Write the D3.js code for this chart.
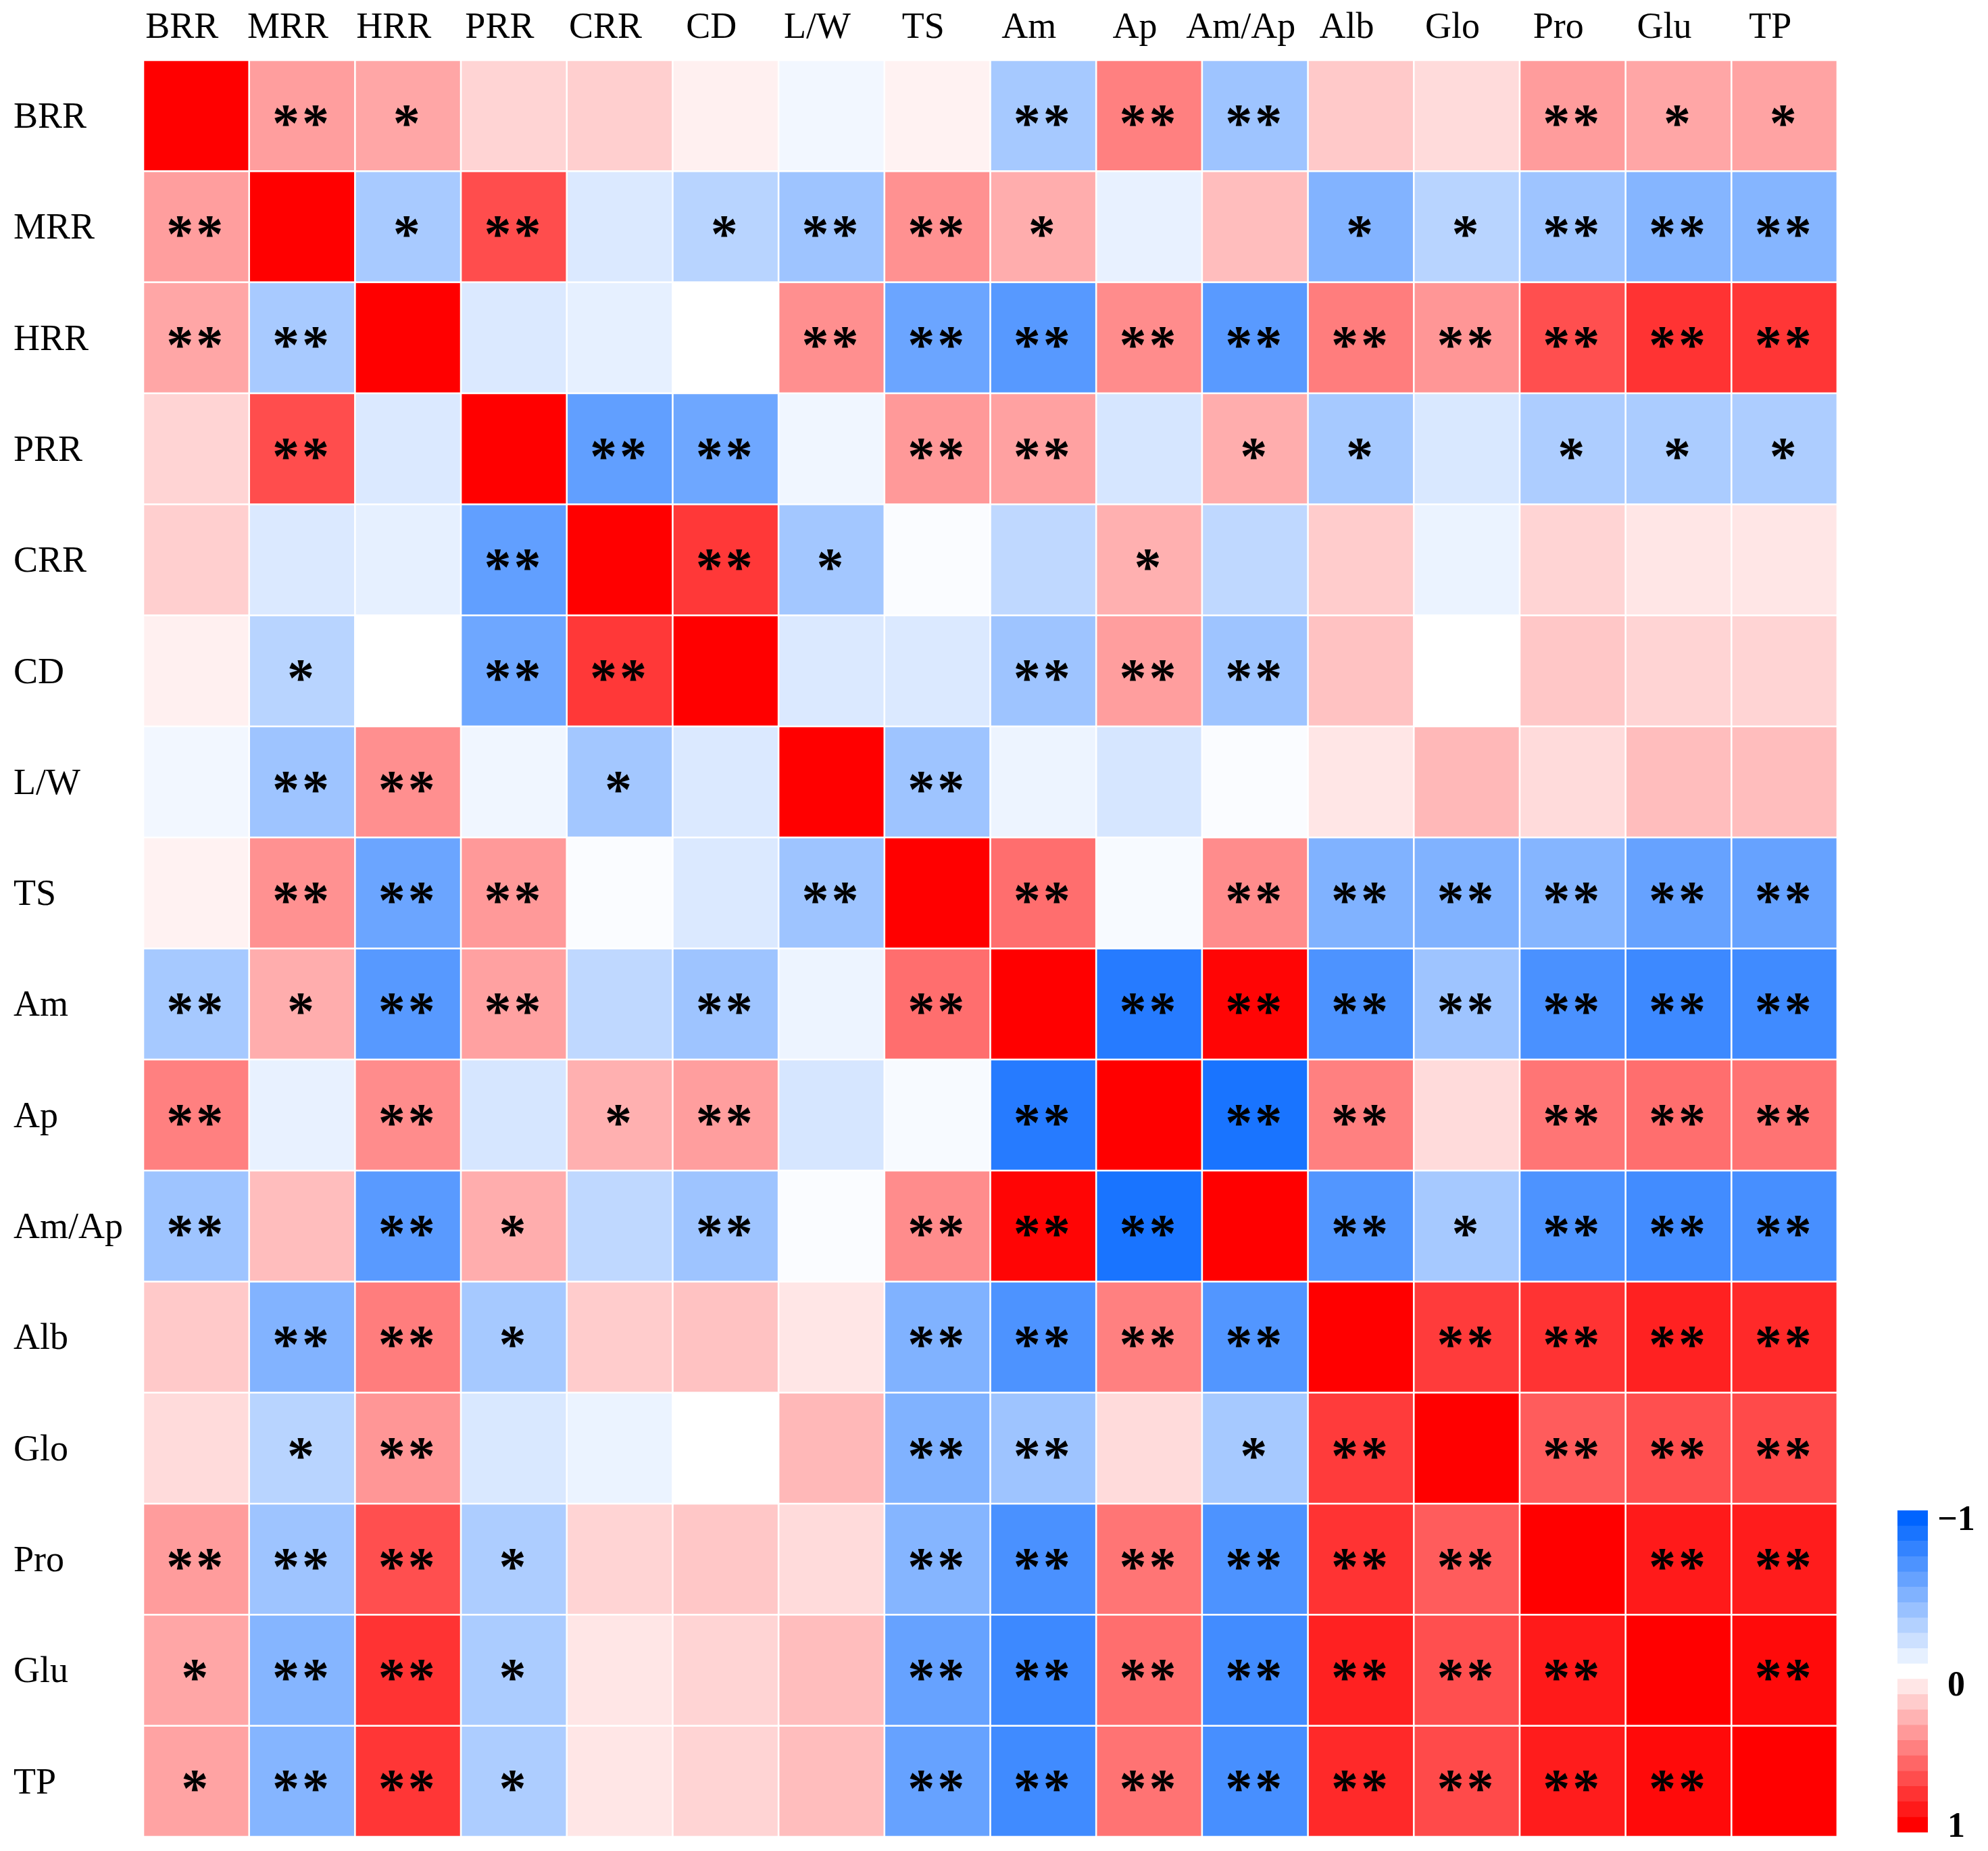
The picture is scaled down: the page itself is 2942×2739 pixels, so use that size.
<!DOCTYPE html>
<html lang="en">
<head>
    <meta charset="UTF-8">
    <script src="https://cdn.jsdelivr.net/npm/d3@7"></script>
    <style>
        body { margin: 0; background: #fff; }
        svg { display: block; }
    </style>
</head>
<body>
    <div id="chart"></div>
</body>
<script>
    // DATA:

    // Variable names (same order on both axes)
    const LABELS = ["BRR", "MRR", "HRR", "PRR", "CRR", "CD", "L/W", "TS",
                    "Am", "Ap", "Am/Ap", "Alb", "Glo", "Pro", "Glu", "TP"];

    // Correlation coefficients, one array per row
    const R_BRR  = [1, 0.38, 0.35, 0.17, 0.19, 0.06, -0.05, 0.05, -0.35, 0.50, -0.38, 0.21, 0.14, 0.39, 0.35, 0.36];
    const R_MRR  = [0.38, 1, -0.34, 0.70, -0.14, -0.28, -0.38, 0.43, 0.32, -0.09, 0.26, -0.49, -0.28, -0.38, -0.48, -0.48];
    const R_HRR  = [0.35, -0.34, 1, -0.14, -0.10, 0.00, 0.44, -0.58, -0.66, 0.45, -0.65, 0.51, 0.41, 0.69, 0.80, 0.79];
    const R_PRR  = [0.17, 0.70, -0.14, 1, -0.62, -0.57, -0.06, 0.40, 0.37, -0.16, 0.32, -0.35, -0.15, -0.32, -0.33, -0.32];
    const R_CRR  = [0.19, -0.14, -0.10, -0.62, 1, 0.78, -0.36, -0.02, -0.25, 0.31, -0.25, 0.20, -0.08, 0.17, 0.10, 0.10];
    const R_CD   = [0.06, -0.28, 0.00, -0.57, 0.78, 1, -0.14, -0.14, -0.38, 0.38, -0.38, 0.24, 0.00, 0.22, 0.17, 0.17];
    const R_LW   = [-0.05, -0.38, 0.44, -0.06, -0.36, -0.14, 1, -0.38, -0.07, -0.16, -0.02, 0.10, 0.28, 0.14, 0.26, 0.26];
    const R_TS   = [0.05, 0.43, -0.58, 0.40, -0.02, -0.14, -0.38, 1, 0.57, -0.03, 0.45, -0.50, -0.50, -0.48, -0.60, -0.60];
    const R_AM   = [-0.35, 0.32, -0.66, 0.37, -0.25, -0.38, -0.07, 0.57, 1, -0.85, 0.98, -0.70, -0.38, -0.71, -0.76, -0.75];
    const R_AP   = [0.50, -0.09, 0.45, -0.16, 0.31, 0.38, -0.16, -0.03, -0.85, 1, -0.90, 0.50, 0.14, 0.54, 0.57, 0.55];
    const R_AMAP = [-0.38, 0.26, -0.65, 0.32, -0.25, -0.38, -0.02, 0.45, 0.98, -0.90, 1, -0.68, -0.35, -0.70, -0.74, -0.72];
    const R_ALB  = [0.21, -0.49, 0.51, -0.35, 0.20, 0.24, 0.10, -0.50, -0.70, 0.50, -0.68, 1, 0.77, 0.80, 0.87, 0.84];
    const R_GLO  = [0.14, -0.28, 0.41, -0.15, -0.08, 0.00, 0.28, -0.50, -0.38, 0.14, -0.35, 0.77, 1, 0.64, 0.69, 0.71];
    const R_PRO  = [0.39, -0.38, 0.69, -0.32, 0.17, 0.22, 0.14, -0.48, -0.71, 0.54, -0.70, 0.80, 0.64, 1, 0.90, 0.89];
    const R_GLU  = [0.35, -0.48, 0.80, -0.33, 0.10, 0.17, 0.26, -0.60, -0.76, 0.57, -0.74, 0.87, 0.69, 0.90, 1, 0.96];
    const R_TP   = [0.36, -0.48, 0.79, -0.32, 0.10, 0.17, 0.26, -0.60, -0.75, 0.55, -0.72, 0.84, 0.71, 0.89, 0.96, 1];
    const CORR = [R_BRR, R_MRR, R_HRR, R_PRR, R_CRR, R_CD, R_LW, R_TS,
                  R_AM, R_AP, R_AMAP, R_ALB, R_GLO, R_PRO, R_GLU, R_TP];

    // Significance marks, one array per row
    const S_BRR  = ["", "**", "*", "", "", "", "", "", "**", "**", "**", "", "", "**", "*", "*"];
    const S_MRR  = ["**", "", "*", "**", "", "*", "**", "**", "*", "", "", "*", "*", "**", "**", "**"];
    const S_HRR  = ["**", "**", "", "", "", "", "**", "**", "**", "**", "**", "**", "**", "**", "**", "**"];
    const S_PRR  = ["", "**", "", "", "**", "**", "", "**", "**", "", "*", "*", "", "*", "*", "*"];
    const S_CRR  = ["", "", "", "**", "", "**", "*", "", "", "*", "", "", "", "", "", ""];
    const S_CD   = ["", "*", "", "**", "**", "", "", "", "**", "**", "**", "", "", "", "", ""];
    const S_LW   = ["", "**", "**", "", "*", "", "", "**", "", "", "", "", "", "", "", ""];
    const S_TS   = ["", "**", "**", "**", "", "", "**", "", "**", "", "**", "**", "**", "**", "**", "**"];
    const S_AM   = ["**", "*", "**", "**", "", "**", "", "**", "", "**", "**", "**", "**", "**", "**", "**"];
    const S_AP   = ["**", "", "**", "", "*", "**", "", "", "**", "", "**", "**", "", "**", "**", "**"];
    const S_AMAP = ["**", "", "**", "*", "", "**", "", "**", "**", "**", "", "**", "*", "**", "**", "**"];
    const S_ALB  = ["", "**", "**", "*", "", "", "", "**", "**", "**", "**", "", "**", "**", "**", "**"];
    const S_GLO  = ["", "*", "**", "", "", "", "", "**", "**", "", "*", "**", "", "**", "**", "**"];
    const S_PRO  = ["**", "**", "**", "*", "", "", "", "**", "**", "**", "**", "**", "**", "", "**", "**"];
    const S_GLU  = ["*", "**", "**", "*", "", "", "", "**", "**", "**", "**", "**", "**", "**", "", "**"];
    const S_TP   = ["*", "**", "**", "*", "", "", "", "**", "**", "**", "**", "**", "**", "**", "**", ""];
    const SIG = [S_BRR, S_MRR, S_HRR, S_PRR, S_CRR, S_CD, S_LW, S_TS,
                 S_AM, S_AP, S_AMAP, S_ALB, S_GLO, S_PRO, S_GLU, S_TP];

    // Colour legend bins (top to bottom) and its labelled ticks
    const LEGEND_BINS = [-1, -0.9, -0.8, -0.7, -0.6, -0.5, -0.4, -0.3, -0.2, -0.1, 0,
                         0.1, 0.2, 0.3, 0.4, 0.5, 0.6, 0.7, 0.8, 0.9, 1];
    const LEGEND_TICKS = [-1, 0, 1];
    const LEGEND_TICK_TEXT = ["\u22121", "0", "1"];

    // LAYOUT:

    const WIDTH = 2942;
    const HEIGHT = 2739;
    const GRID = { left: 212, right: 2719, top: 89, bottom: 2718 };
    const GAP = 2.6;                 // white line between cells
    const FONT = "'Liberation Serif', 'Times New Roman', serif";
    const LABEL_SIZE = 54;
    const STAR_SIZE = 80;
    const LEGEND = { x: 2808, w: 45, top: 2235, bottom: 2711, textX: 2895 };

    // SCALES:

    const x = d3.scaleBand().domain(LABELS).range([GRID.left, GRID.right]);
    const y = d3.scaleBand().domain(LABELS).range([GRID.top, GRID.bottom]);
    const color = d3.scaleLinear()
        .domain([-1, 0, 1])
        .range(["#0064ff", "#ffffff", "#ff0000"]);

    // flatten the matrix into cell records
    const cells = [];
    CORR.forEach((row, i) => {
        row.forEach((v, j) => {
            cells.push({ row: LABELS[i], col: LABELS[j], v: v, sig: SIG[i][j] });
        });
    });

    // SVG:

    const svg = d3.select("#chart").append("svg")
        .attr("width", WIDTH)
        .attr("height", HEIGHT)
        .attr("viewBox", [0, 0, WIDTH, HEIGHT]);

    svg.append("g")
        .selectAll("rect")
        .data(cells)
        .enter()
        .append("rect")
        .attr("x", d => x(d.col) + GAP / 2)
        .attr("y", d => y(d.row) + GAP / 2)
        .attr("width", x.bandwidth() - GAP)
        .attr("height", y.bandwidth() - GAP)
        .attr("fill", d => color(d.v));

    // significance asterisks
    svg.append("g")
        .selectAll("text")
        .data(cells.filter(d => d.sig !== ""))
        .enter()
        .append("text")
        .attr("x", d => x(d.col) + x.bandwidth() / 2)
        .attr("y", d => y(d.row) + y.bandwidth() / 2 + STAR_SIZE * 0.47)
        .attr("text-anchor", "middle")
        .style("font-family", FONT)
        .style("font-size", STAR_SIZE + "px")
        .style("font-weight", "bold")
        .style("letter-spacing", "4px")
        .style("fill", "#000")
        .text(d => d.sig);

    // column labels (sit a bit left of the cell centre in the original)
    svg.append("g")
        .selectAll("text")
        .data(LABELS)
        .enter()
        .append("text")
        .attr("x", d => x(d) + x.bandwidth() / 2 - 21)
        .attr("y", 56)
        .attr("text-anchor", "middle")
        .style("font-family", FONT)
        .style("font-size", LABEL_SIZE + "px")
        .text(d => d);

    // row labels
    svg.append("g")
        .selectAll("text")
        .data(LABELS)
        .enter()
        .append("text")
        .attr("x", 20)
        .attr("y", d => y(d) + y.bandwidth() / 2 + LABEL_SIZE * 0.33)
        .attr("text-anchor", "start")
        .style("font-family", FONT)
        .style("font-size", LABEL_SIZE + "px")
        .text(d => d);

    // LEGEND:

    const ly = d3.scaleBand().domain(LEGEND_BINS).range([LEGEND.top, LEGEND.bottom]);
    svg.append("g")
        .selectAll("rect")
        .data(LEGEND_BINS)
        .enter()
        .append("rect")
        .attr("x", LEGEND.x)
        .attr("y", d => ly(d))
        .attr("width", LEGEND.w)
        .attr("height", ly.bandwidth() + 0.5)
        .attr("fill", d => color(d));

    // tick text: top and bottom hug the bar ends, middle sits just under the white bin
    const tickY = d3.scaleLinear()
        .domain([-1, 0, 1])
        .range([LEGEND.top + 29, ly(0) + ly.bandwidth() / 2 + 36, LEGEND.bottom + 7]);
    svg.append("g")
        .selectAll("text")
        .data(LEGEND_TICKS)
        .enter()
        .append("text")
        .attr("x", LEGEND.textX)
        .attr("y", d => tickY(d))
        .attr("text-anchor", "middle")
        .style("font-family", FONT)
        .style("font-size", "52px")
        .style("font-weight", "bold")
        .text((d, i) => LEGEND_TICK_TEXT[i]);
</script>
</html>
